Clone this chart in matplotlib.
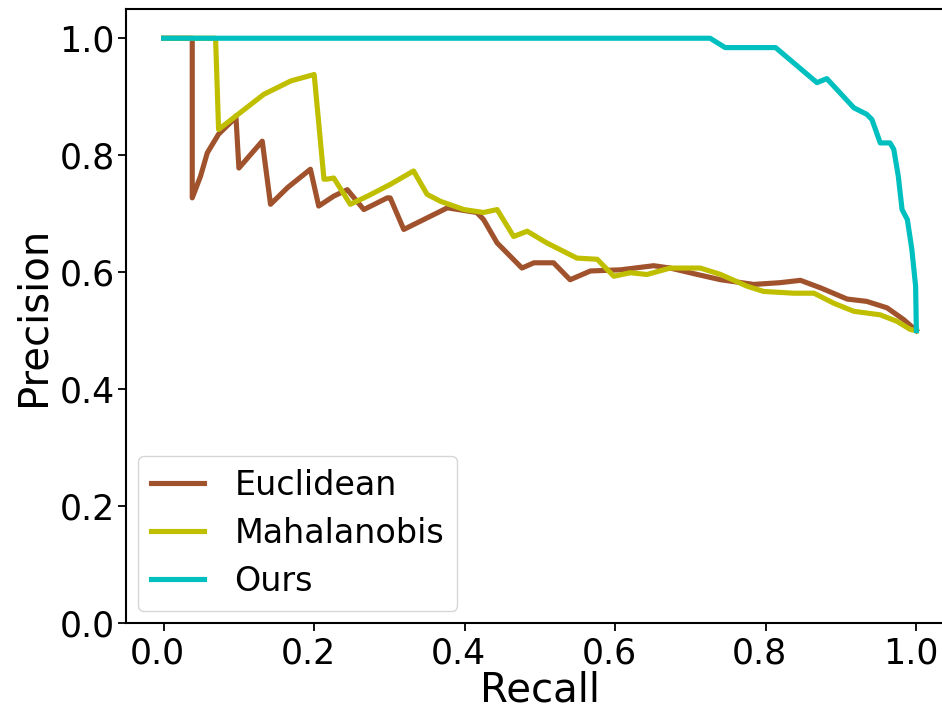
import matplotlib
matplotlib.use("Agg")
import matplotlib.pyplot as plt
from matplotlib.transforms import ScaledTranslation

# values (recall, precision)
euclid_recall = [0.0, 0.038, 0.038, 0.049, 0.058, 0.073, 0.093, 0.096, 0.100, 0.131,
                 0.142, 0.165, 0.195, 0.206, 0.226, 0.244, 0.266, 0.297, 0.301, 0.319,
                 0.377, 0.416, 0.425, 0.443, 0.476, 0.492, 0.518, 0.540, 0.567, 0.607,
                 0.651, 0.673, 0.709, 0.740, 0.784, 0.819, 0.846, 0.873, 0.908, 0.934,
                 0.961, 0.983, 1.0]
euclid_prec = [1.0, 1.0, 0.727, 0.764, 0.804, 0.836, 0.861, 0.867, 0.778, 0.824,
               0.716, 0.745, 0.776, 0.713, 0.730, 0.741, 0.707, 0.727, 0.727, 0.673,
               0.710, 0.702, 0.690, 0.650, 0.607, 0.616, 0.616, 0.587, 0.602, 0.604,
               0.611, 0.607, 0.596, 0.587, 0.579, 0.582, 0.586, 0.573, 0.554, 0.550,
               0.539, 0.519, 0.500]

maha_recall = [0.0, 0.069, 0.073, 0.102, 0.133, 0.169, 0.200, 0.213, 0.217, 0.226,
               0.248, 0.271, 0.301, 0.332, 0.350, 0.368, 0.399, 0.425, 0.443, 0.465,
               0.483, 0.509, 0.549, 0.576, 0.598, 0.620, 0.642, 0.673, 0.713, 0.740,
               0.775, 0.797, 0.837, 0.864, 0.890, 0.917, 0.952, 0.974, 0.992, 1.0]
maha_prec = [1.0, 1.0, 0.844, 0.873, 0.904, 0.927, 0.938, 0.759, 0.759, 0.761,
             0.716, 0.730, 0.750, 0.773, 0.733, 0.721, 0.707, 0.702, 0.707, 0.661,
             0.670, 0.650, 0.624, 0.622, 0.593, 0.599, 0.596, 0.607, 0.607, 0.596,
             0.576, 0.567, 0.564, 0.564, 0.547, 0.533, 0.527, 0.516, 0.502, 0.500]

ours_recall = [0.0, 0.726, 0.746, 0.813, 0.868, 0.881, 0.917, 0.934, 0.941, 0.952,
               0.965, 0.970, 0.976, 0.981, 0.988, 0.994, 0.999, 1.0]
ours_prec = [1.0, 1.0, 0.984, 0.984, 0.924, 0.931, 0.881, 0.870, 0.861, 0.821,
             0.821, 0.810, 0.764, 0.707, 0.690, 0.639, 0.576, 0.500]

LW = 3.7

fig = plt.figure(figsize=(9.42, 7.10), dpi=100)
# axes runs past the right edge of the canvas, as in the reference crop
ax = fig.add_axes([126 / 942, 87 / 710, 828 / 942, 614 / 710])

ax.plot(euclid_recall, euclid_prec, color="#A0522D", lw=LW, label="Euclidean")
ax.plot(maha_recall, maha_prec, color="#BFBF00", lw=LW, label="Mahalanobis")
ax.plot(ours_recall, ours_prec, color="#00BFBF", lw=LW, label="Ours")

ax.set_xlim(-0.05, 1.05)
ax.set_ylim(0.0, 1.05)
ax.set_xticks([0.0, 0.2, 0.4, 0.6, 0.8, 1.0])
ax.set_yticks([0.0, 0.2, 0.4, 0.6, 0.8, 1.0])
ax.tick_params(axis="both", labelsize=25, length=6, width=1.3)
ax.tick_params(axis="y", pad=2)
ax.tick_params(axis="x", pad=4)
for sp in ax.spines.values():
    sp.set_linewidth(1.5)

# the x tick labels sit a few pixels left of their ticks in the reference
shift = ScaledTranslation(-6 / 100, 0, fig.dpi_scale_trans)
for lbl in ax.get_xticklabels():
    lbl.set_transform(lbl.get_transform() + shift)

ax.set_xlabel("Recall", fontsize=29, labelpad=0)
ax.set_ylabel("Precision", fontsize=29, labelpad=4)

ax.legend(loc="lower left", fontsize=24, handlelength=1.6, handletextpad=0.9,
          labelspacing=0.45, borderaxespad=0.35)

fig.savefig("out.png", dpi=100)
